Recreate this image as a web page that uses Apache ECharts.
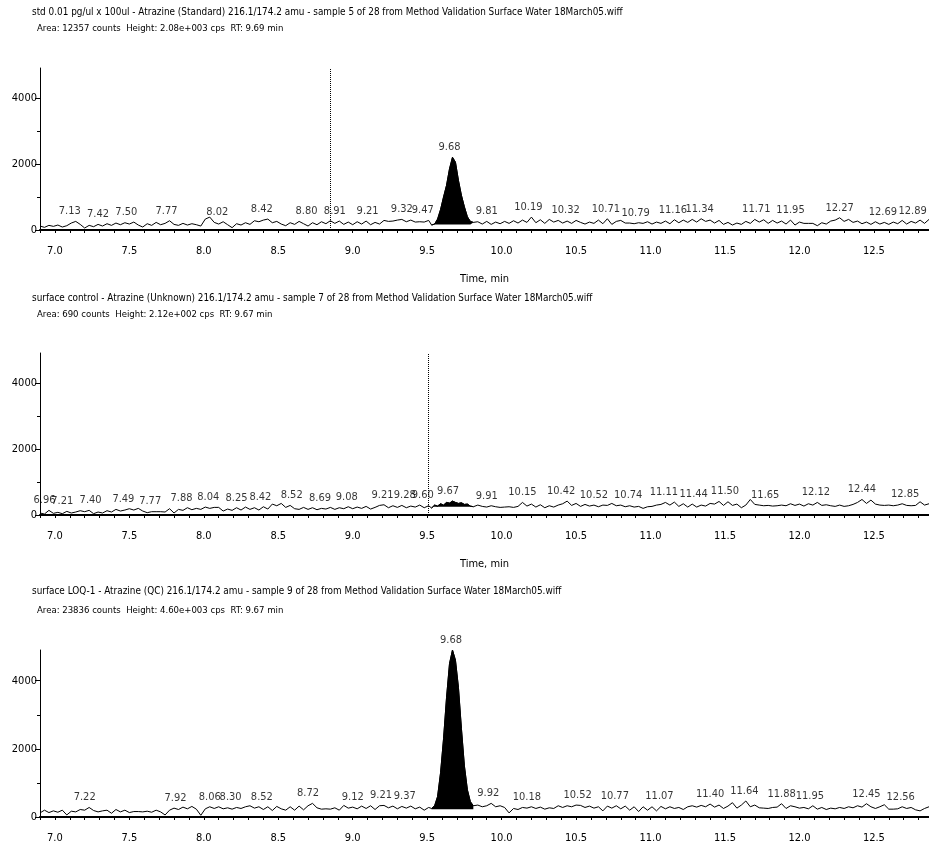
<!DOCTYPE html>
<html><head><meta charset="utf-8">
<script src="https://cdn.jsdelivr.net/npm/echarts@6/dist/echarts.min.js"></script>
<style>html,body{margin:0;padding:0;background:#fff}#c{width:929px;height:844px}</style>
</head><body><div id="c"></div>
<script>
// ---------- text ----------
const titleLines = [
  'std 0.01 pg/ul x 100ul - Atrazine (Standard) 216.1/174.2 amu - sample 5 of 28 from Method Validation Surface Water 18March05.wiff',
  'surface control - Atrazine (Unknown) 216.1/174.2 amu - sample 7 of 28 from Method Validation Surface Water 18March05.wiff',
  'surface LOQ-1 - Atrazine (QC) 216.1/174.2 amu - sample 9 of 28 from Method Validation Surface Water 18March05.wiff'
];
const infoLines = [
  'Area: 12357 counts  Height: 2.08e+003 cps  RT: 9.69 min',
  'Area: 690 counts  Height: 2.12e+002 cps  RT: 9.67 min',
  'Area: 23836 counts  Height: 4.60e+003 cps  RT: 9.67 min'
];
const xTickLabels = [7.0, 7.5, 8.0, 8.5, 9.0, 9.5, 10.0, 10.5, 11.0, 11.5, 12.0, 12.5];
const yTickLabels = [0, 2000, 4000];
const yMinorTicks = [1000, 3000];

// ---------- sampling (min) ----------
const preStart = 6.90, postStart = 9.84, sampleStep = 0.03;
const peakTimes = [9.53,9.55,9.57,9.59,9.61,9.63,9.65,9.67,9.69,9.71,9.73,9.75,9.77,9.79,9.81];

// ---------- panel 1 (Standard) ----------
const pre1 = [120,80,140,110,150,90,130,210,260,170,
 60,140,100,170,120,190,140,210,160,220,
 180,240,150,90,190,140,230,160,200,280,
 170,140,200,150,190,160,120,330,390,230,
 180,250,160,70,190,150,220,170,280,250,
 300,330,220,260,180,130,220,170,260,190,
 120,220,160,250,190,280,200,270,170,240,
 160,250,180,270,160,230,180,290,260,270,
 300,320,250,300,240,250,240,290];
const peak1 = [150,180,330,620,1000,1350,1850,2200,2050,1500,1050,700,400,260,230];
const post1 = [250,180,260,170,240,190,260,200,280,210,
 300,230,390,220,310,200,320,240,290,210,
 270,200,290,230,180,240,200,300,190,340,
 170,260,290,210,210,190,220,200,250,180,
 240,200,270,190,310,220,300,230,320,240,
 340,260,300,210,290,170,230,150,210,170,
 260,200,320,240,310,200,290,210,270,180,
 300,150,240,200,200,200,130,220,180,270,
 300,370,260,320,230,270,190,240,170,250,
 180,230,170,240,190,290,180,260,210,300,
 200,320];
const rt1 = ['7.13','7.42','7.50','7.77','8.02','8.42','8.80','8.91','9.21','9.32','9.47','9.68','9.81','10.19','10.32','10.71','10.79','11.16','11.34','11.71','11.95','12.27','12.69','12.89'];
const rtAt1 = [7.10,7.29,7.48,7.75,8.09,8.39,8.69,8.88,9.10,9.33,9.47,9.65,9.90,10.18,10.43,10.70,10.90,11.15,11.33,11.71,11.94,12.27,12.56,12.76];

// ---------- panel 2 (Unknown) ----------
const pre2 = [60,30,140,50,80,40,110,60,90,130,
 100,140,40,90,60,130,90,170,120,150,
 190,150,200,120,70,100,100,100,90,190,
 60,170,140,220,160,200,170,240,200,230,
 230,120,180,140,220,150,240,170,220,150,
 250,180,330,280,350,230,290,190,170,230,
 170,220,160,200,180,230,170,220,190,250,
 190,240,200,260,180,230,290,310,220,280,
 230,290,220,270,240,300,220,280];
const peak2 = [210,300,270,340,300,380,360,420,380,350,370,320,330,270,250];
const post2 = [300,260,240,280,250,230,240,250,230,260,
 380,270,330,240,310,220,280,240,300,340,
 420,290,350,260,320,270,300,250,300,290,
 350,280,300,250,280,240,260,200,250,260,
 300,320,380,300,390,260,340,240,330,240,
 300,270,350,330,410,290,400,290,330,220,
 300,470,320,300,280,290,270,280,300,280,
 340,290,330,270,340,300,380,290,310,280,
 260,300,260,280,320,380,470,350,450,330,
 300,290,300,280,300,340,290,280,290,400,
 300,340];
const rt2 = ['6.96','7.21','7.40','7.49','7.77','7.88','8.04','8.25','8.42','8.52','8.69','9.08','9.21','9.28','9.60','9.67','9.91','10.15','10.42','10.52','10.74','11.11','11.44','11.50','11.65','12.12','12.44','12.85'];
const rtAt2 = [6.93,7.05,7.24,7.46,7.64,7.85,8.03,8.22,8.38,8.59,8.78,8.96,9.20,9.35,9.47,9.64,9.90,10.14,10.40,10.62,10.85,11.09,11.29,11.50,11.77,12.11,12.42,12.71];

// ---------- panel 3 (QC) ----------
const pre3 = [120,200,130,180,140,200,60,170,150,220,
 200,280,190,150,180,200,110,220,150,200,
 130,160,160,150,170,140,200,150,60,200,
 260,220,290,240,310,230,50,240,300,250,
 300,240,270,230,280,250,300,330,260,300,
 220,300,190,310,240,200,300,200,320,210,
 330,400,270,230,240,230,270,200,340,260,
 290,240,320,250,330,220,330,340,270,320,
 240,310,260,320,240,290,200,280];
const peak3 = [250,330,600,1300,2300,3500,4500,4900,4600,3800,2600,1500,800,450,330];
const post3 = [350,300,330,400,300,330,280,120,250,220,
 280,260,300,250,290,230,270,250,330,280,
 330,300,350,340,280,320,260,300,180,320,
 260,330,240,320,200,300,160,300,200,300,
 180,310,240,300,250,280,220,300,330,290,
 340,300,380,290,350,250,320,420,260,350,
 470,300,350,270,260,250,280,290,390,250,
 330,300,260,280,240,330,230,280,220,260,
 240,280,250,300,270,330,290,390,300,250,
 300,360,230,230,240,300,250,280,210,180,
 250,300];
const rt3 = ['7.22','7.92','8.06','8.30','8.52','8.72','9.12','9.21','9.37','9.68','9.92','10.18','10.52','10.77','11.07','11.40','11.64','11.88','11.95','12.45','12.56'];
const rtAt3 = [7.20,7.81,8.04,8.18,8.39,8.70,9.00,9.19,9.35,9.66,9.91,10.17,10.51,10.76,11.06,11.40,11.63,11.88,12.07,12.45,12.68];

// cursor (dotted) lines and integration baselines
const cursorTimes = [8.85, 9.51, null];
const fillBase = [170, 250, 230];

// ---------- build ----------
const FONT = "'DejaVu Sans Condensed', 'Liberation Sans Narrow', sans-serif";
const panels = [
  {pre: pre1, peak: peak1, post: post1, rt: rt1, at: rtAt1},
  {pre: pre2, peak: peak2, post: post2, rt: rt2, at: rtAt2},
  {pre: pre3, peak: peak3, post: post3, rt: rt3, at: rtAt3}
];
const gridBoxes = [{top: 68, height: 162}, {top: 353, height: 162}, {top: 650, height: 167}];
const titleTops = [[7, 24], [293, 310], [586, 606]];
const X_MIN = 6.9, X_MAX = 12.87, Y_MAX = 4900;

function sampled(start, vals) {
  return vals.map((v, i) => [+(start + sampleStep * i).toFixed(2), v]);
}
const minorTicks = [];
for (let k = 69; k <= 128; k++) minorTicks.push(k / 10);

const option = {
  animation: false,
  backgroundColor: '#fff',
  title: [], grid: [], xAxis: [], yAxis: [], series: []
};

panels.forEach((p, g) => {
  const trace = sampled(preStart, p.pre)
    .concat(peakTimes.map((t, i) => [t, p.peak[i]]))
    .concat(sampled(postStart, p.post));
  option.title.push({text: titleLines[g], left: 32, top: titleTops[g][0], padding: 0,
    textStyle: {fontSize: 9.9, fontWeight: 'normal', fontFamily: FONT, color: '#000'}});
  option.title.push({text: infoLines[g], left: 37, top: titleTops[g][1], padding: 0,
    textStyle: {fontSize: 9.5, fontWeight: 'normal', fontFamily: FONT, color: '#000'}});
  option.grid.push({left: 40, width: 889, top: gridBoxes[g].top, height: gridBoxes[g].height});
  option.xAxis.push({
    type: 'value', gridIndex: g, min: X_MIN, max: X_MAX,
    name: g < 2 ? 'Time, min' : '', nameLocation: 'middle', nameGap: 44,
    nameTextStyle: {fontSize: 11, fontFamily: FONT, color: '#000'},
    axisLine: {show: true, onZero: false, lineStyle: {color: '#000', width: 2}},
    axisTick: {show: true, length: 3, customValues: minorTicks, lineStyle: {color: '#000'}},
    axisLabel: {show: true, customValues: xTickLabels, formatter: v => v.toFixed(1), margin: 16,
      fontSize: 11, fontFamily: FONT, color: '#000'},
    splitLine: {show: false}
  });
  // main y axis (labels + major ticks)
  option.yAxis.push({
    type: 'value', gridIndex: g, min: 0, max: Y_MAX,
    axisLine: {show: true, lineStyle: {color: '#000', width: 1}},
    axisTick: {show: true, length: 5, customValues: yTickLabels, lineStyle: {color: '#000'}},
    axisLabel: {customValues: yTickLabels, formatter: v => String(v), margin: 3, fontSize: 11,
      fontFamily: FONT, color: '#000'},
    splitLine: {show: false}
  });
});
// minor y ticks
panels.forEach((p, g) => {
  option.yAxis.push({
    type: 'value', gridIndex: g, min: 0, max: Y_MAX, position: 'left',
    axisLine: {show: false},
    axisTick: {show: true, length: 3, customValues: yMinorTicks, lineStyle: {color: '#000'}},
    axisLabel: {show: false}, splitLine: {show: false}
  });
});

panels.forEach((p, g) => {
  const trace = sampled(preStart, p.pre)
    .concat(peakTimes.map((t, i) => [t, p.peak[i]]))
    .concat(sampled(postStart, p.post));
  const lineSeries = {
    type: 'line', xAxisIndex: g, yAxisIndex: g, data: trace, showSymbol: false, silent: true,
    lineStyle: {color: '#000', width: 1}, z: 3
  };
  if (cursorTimes[g] !== null) {
    lineSeries.markLine = {
      silent: true, symbol: ['none', 'none'], label: {show: false},
      lineStyle: {type: 'dotted', color: '#000', width: 1},
      data: [{xAxis: cursorTimes[g]}]
    };
  }
  option.series.push(lineSeries);
  option.series.push({
    type: 'line', xAxisIndex: g, yAxisIndex: g, showSymbol: false, silent: true,
    data: peakTimes.map((t, i) => [t, p.peak[i]]),
    lineStyle: {color: '#000', width: 1},
    areaStyle: {color: '#000', opacity: 1, origin: fillBase[g]}, z: 2
  });
  const labelData = p.rt.map((txt, i) => {
    const x = p.at[i];
    let y = 0;
    trace.forEach(([t, v]) => { if (Math.abs(t - x) <= 0.05 && v > y) y = v; });
    return {name: txt, value: [x, y]};
  });
  option.series.push({
    type: 'scatter', xAxisIndex: g, yAxisIndex: g, data: labelData, symbolSize: 1, silent: true,
    itemStyle: {color: 'rgba(0,0,0,0)'}, clip: false,
    label: {show: true, position: 'top', distance: 4, formatter: '{b}', fontSize: 11,
      fontFamily: FONT, color: '#000'}, z: 4
  });
});

const chart = echarts.init(document.getElementById('c'), null, {renderer: 'canvas'});
chart.setOption(option);
</script></body></html>
